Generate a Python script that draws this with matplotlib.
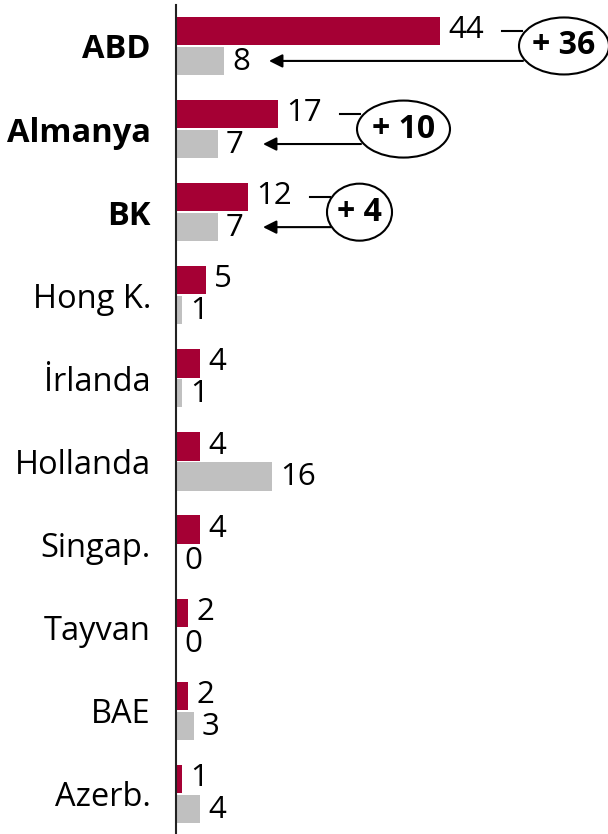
#! /usr/bin/env python3

import matplotlib
matplotlib.use("Agg")
import matplotlib.pyplot as plt
from matplotlib.patches import Ellipse
import numpy as np

countries = ['ABD', 'Almanya', 'BK', 'Hong K.', 'İrlanda', 'Hollanda',
             'Singap.', 'Tayvan', 'BAE', 'Azerb.']
red_vals = [44, 17, 12, 5, 4, 4, 4, 2, 2, 1]
gray_vals = [8, 7, 7, 1, 1, 16, 0, 0, 3, 4]
diff_labels = ['+ 36', '+ 10', '+ 4']

RED = '#A50034'
GRAY = '#C0C0C0'

plt.rcParams['font.family'] = ['Open Sans', 'DejaVu Sans']

fig = plt.figure(figsize=(6.08, 8.34), dpi=100)
ax = fig.add_axes([176/608, 0, 432/608, 829/834])

# 6 px per unit on x
PX = 1/6
y = np.arange(len(countries))
off = 0.18
h = 0.34
ax.barh(y - off, red_vals, height=h, color=RED)
ax.barh(y + off, gray_vals, height=h, color=GRAY)

ax.set_xlim(0, 72)
ax.set_ylim(9.483, -0.493)

for sp in ['top', 'right', 'bottom']:
    ax.spines[sp].set_visible(False)
ax.spines['left'].set_linewidth(1.5)
ax.spines['left'].set_color('#222222')
ax.set_xticks([])
ax.set_yticks(y)
ax.set_yticklabels(countries, fontsize=23.5)
ax.tick_params(axis='y', length=0, pad=18)
for i, lab in enumerate(ax.get_yticklabels()):
    if i < len(diff_labels):
        lab.set_fontweight('bold')

for i in range(len(countries)):
    ax.annotate(str(red_vals[i]), (red_vals[i], i - off), xytext=(8, 1),
                textcoords='offset pixels', va='center', ha='left', fontsize=22.5)
    ax.annotate(str(gray_vals[i]), (gray_vals[i], i + off), xytext=(8, -1),
                textcoords='offset pixels', va='center', ha='left', fontsize=22.5)

# difference bubbles
ell_w = [90, 93, 65]
for i, txt in enumerate(diff_labels):
    left = red_vals[i] + 79*PX
    cx = left + ell_w[i]*PX/2
    e = Ellipse((cx, i), ell_w[i]*PX, 57/83.1, facecolor='white',
                edgecolor='black', lw=1.5, clip_on=False, zorder=3)
    ax.add_patch(e)
    ax.text(cx, i, txt, ha='center', va='center', fontsize=23,
            fontweight='bold', zorder=4)
    ax.plot([red_vals[i] + 62*PX, left + 3*PX], [i - off, i - off],
            color='black', lw=1.5, clip_on=False, zorder=2)
    ax.annotate('', xy=(gray_vals[i] + 45*PX, i + off),
                xytext=(left + 4*PX, i + off),
                arrowprops=dict(arrowstyle='-|>', color='black', lw=1.5,
                                mutation_scale=20, shrinkA=0, shrinkB=0),
                zorder=2)

fig.savefig('out.png', dpi=100)
